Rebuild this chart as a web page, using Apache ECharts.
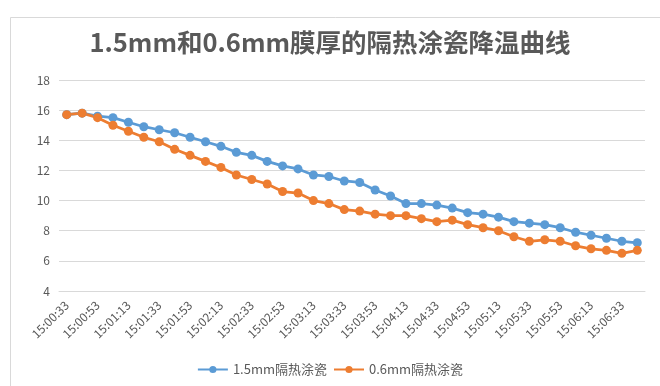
<!DOCTYPE html>
<html>
<head>
<meta charset="utf-8">
<script src="https://cdn.jsdelivr.net/npm/echarts@6/dist/echarts.min.js"></script>
<style>
  html, body { margin: 0; padding: 0; background: #fff; }
  #chart { width: 660px; height: 386px; }
</style>
</head>
<body>
<div id="chart"></div>
<script>
// Sample times (every 10 s)
const times = [
  '15:00:33','15:00:43','15:00:53','15:01:03','15:01:13','15:01:23','15:01:33','15:01:43',
  '15:01:53','15:02:03','15:02:13','15:02:23','15:02:33','15:02:43','15:02:53','15:03:03',
  '15:03:13','15:03:23','15:03:33','15:03:43','15:03:53','15:04:03','15:04:13','15:04:23',
  '15:04:33','15:04:43','15:04:53','15:05:03','15:05:13','15:05:23','15:05:33','15:05:43',
  '15:05:53','15:06:03','15:06:13','15:06:23','15:06:33','15:06:43'
];

// Temperature readings
const coat15 = [
  15.7, 15.8, 15.6, 15.5, 15.2, 14.9, 14.7, 14.5, 14.2, 13.9, 13.6, 13.2, 13.0,
  12.6, 12.3, 12.1, 11.7, 11.6, 11.3, 11.2, 10.7, 10.3, 9.8, 9.8, 9.7, 9.5,
  9.2, 9.1, 8.9, 8.6, 8.5, 8.4, 8.2, 7.9, 7.7, 7.5, 7.3, 7.2
];
const coat06 = [
  15.7, 15.8, 15.5, 15.0, 14.6, 14.2, 13.9, 13.4, 13.0, 12.6, 12.2, 11.7, 11.4,
  11.1, 10.6, 10.5, 10.0, 9.8, 9.4, 9.3, 9.1, 9.0, 9.0, 8.8, 8.6, 8.7,
  8.4, 8.2, 8.0, 7.6, 7.3, 7.4, 7.3, 7.0, 6.8, 6.7, 6.5, 6.7
];

const seriesNames = ['1.5mm隔热涂瓷', '0.6mm隔热涂瓷'];
const titleText = '1.5mm和0.6mm膜厚的隔热涂瓷降温曲线';

const FONT = '"Noto Sans CJK SC", "Noto Sans", sans-serif';
const TXT = '#595959';

const chart = echarts.init(document.getElementById('chart'), null, { renderer: 'canvas' });

chart.setOption({
  animation: false,
  backgroundColor: '#ffffff',
  textStyle: { fontFamily: FONT },
  graphic: [{
    type: 'rect',
    shape: { x: 10.5, y: 17.5, width: 700, height: 400 },
    style: { fill: 'none', stroke: '#D9D9D9', lineWidth: 1 },
    silent: true
  }],
  title: {
    text: titleText,
    left: 'center',
    top: 25,
    textStyle: { fontFamily: FONT, fontSize: 25.5, fontWeight: 'bold', color: TXT }
  },
  legend: {
    bottom: 5,
    left: 'center',
    itemWidth: 30,
    itemHeight: 9,
    itemGap: 6,
    textStyle: { fontFamily: FONT, fontSize: 13, color: TXT },
    data: seriesNames
  },
  grid: { left: 59, right: 15, top: 80, bottom: 95 },
  xAxis: {
    type: 'category',
    data: times,
    boundaryGap: true,
    axisLine: { show: true, lineStyle: { color: '#D9D9D9' } },
    axisTick: { show: false },
    axisLabel: {
      interval: 1,
      rotate: 45,
      color: TXT,
      fontFamily: FONT,
      fontSize: 12,
      margin: 12
    }
  },
  yAxis: {
    type: 'value',
    min: 4,
    max: 18,
    interval: 2,
    axisLine: { show: false },
    axisTick: { show: false },
    axisLabel: { color: TXT, fontFamily: FONT, fontSize: 12, margin: 9 },
    splitLine: { lineStyle: { color: '#D9D9D9', width: 1 } }
  },
  series: [
    {
      name: seriesNames[0],
      type: 'line',
      data: coat15,
      color: '#5B9BD5',
      lineStyle: { width: 2.75 },
      symbol: 'circle',
      symbolSize: 9
    },
    {
      name: seriesNames[1],
      type: 'line',
      data: coat06,
      color: '#ED7D31',
      lineStyle: { width: 2.75 },
      symbol: 'circle',
      symbolSize: 9
    }
  ]
});
</script>
</body>
</html>
